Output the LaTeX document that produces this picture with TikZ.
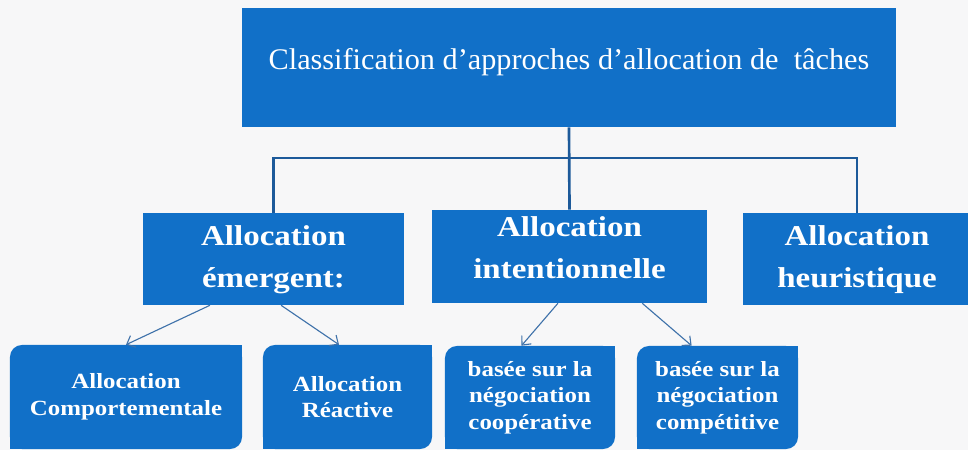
\documentclass[tikz,border=0pt]{standalone}
\usepackage{fontspec}
\setmainfont{Liberation Serif}
\newfontfamily\topfont{Liberation Serif}[FakeStretch=1.01]
\newfontfamily\bfont{Liberation Serif}[FakeStretch=1.15]
\usetikzlibrary{arrows.meta,calc}
\definecolor{boxblue}{HTML}{1170C8}
\definecolor{connblue}{HTML}{1D5A9A}
\definecolor{arrblue}{HTML}{3F72AA}
\definecolor{bgcol}{HTML}{F7F7F8}
\begin{document}
\begin{tikzpicture}[x=0.025cm,y=-0.025cm,
  topbox/.style={fill=boxblue, text=white, inner sep=0pt, minimum width=16.35cm, minimum height=2.975cm,
    font=\topfont\fontsize{21.3}{26}\selectfont, text height=0.5cm, text depth=0.425cm},
  midbox/.style={fill=boxblue, text=white, inner sep=0pt, align=center, minimum height=2.3cm,
    font=\bfont\bfseries\fontsize{20.4}{29.5}\selectfont, text depth=0.2cm},
  lowbox/.style={fill=boxblue, text=white, inner sep=0pt, align=center, rounded corners=0.3cm,
    font=\bfont\bfseries\fontsize{15.4}{18.9}\selectfont},
  conn/.style={draw=connblue, line width=1.9pt},
  arr/.style={draw=arrblue, line width=0.8pt, -{Straight Barb[length=5pt,width=9pt]}}
]
\fill[bgcol] (0,0) rectangle (968,450);
\useasboundingbox (0,0) rectangle (968,450);

\node[topbox] (t) at (569,67.5) {Classification d’approches d’allocation de~~tâches};

\node[midbox, minimum width=6.525cm, text height=1.6cm] (b1) at (273.5,259) {Allocation\\émergent:};
\node[midbox, minimum width=6.875cm, minimum height=2.325cm, text height=1.275cm] (b2) at (569.5,256.5) {Allocation\\intentionnelle};
\node[midbox, minimum width=5.7cm, text height=1.6cm] (b3) at (857,259) {Allocation\\heuristique};

\node[lowbox, minimum width=5.8cm, minimum height=2.6cm] (A) at (126,397) {Allocation\\Comportementale};
\node[lowbox, minimum width=4.225cm, minimum height=2.6cm] (B) at (347.5,397) {Allocation\\Réactive};
\node[lowbox, minimum width=4.25cm, minimum height=2.575cm] (C) at (530,397.5) {basée sur la\\négociation\\coopérative};
\node[lowbox, minimum width=4.025cm, minimum height=2.575cm] (D) at (717.5,397.5) {basée sur la\\négociation\\compétitive};
\foreach \n in {A,B,C,D}{
  \fill[boxblue] (\n.north east) rectangle ++(-14,14);
  \fill[boxblue] (\n.south west) rectangle ++(14,-14);
}

\coordinate (bus) at (569,158);
\draw[conn] (t.south) -- (b2.north);
\draw[conn] (b1.north) -- (b1.north |- bus) -- (b3.north |- bus) -- (b3.north);

\draw[arr] ($(b1.south west)!0.257!(b1.south east)$) -- (A.north);
\draw[arr] ($(b1.south west)!0.529!(b1.south east)$) -- ($(B.north west)!0.45!(B.north east)$);
\draw[arr] ($(b2.south west)!0.458!(b2.south east)$) -- ($(C.north west)!0.45!(C.north east)$);
\draw[arr] ($(b2.south west)!0.764!(b2.south east)$) -- ($(D.north west)!0.34!(D.north east)$);
\end{tikzpicture}
\end{document}
